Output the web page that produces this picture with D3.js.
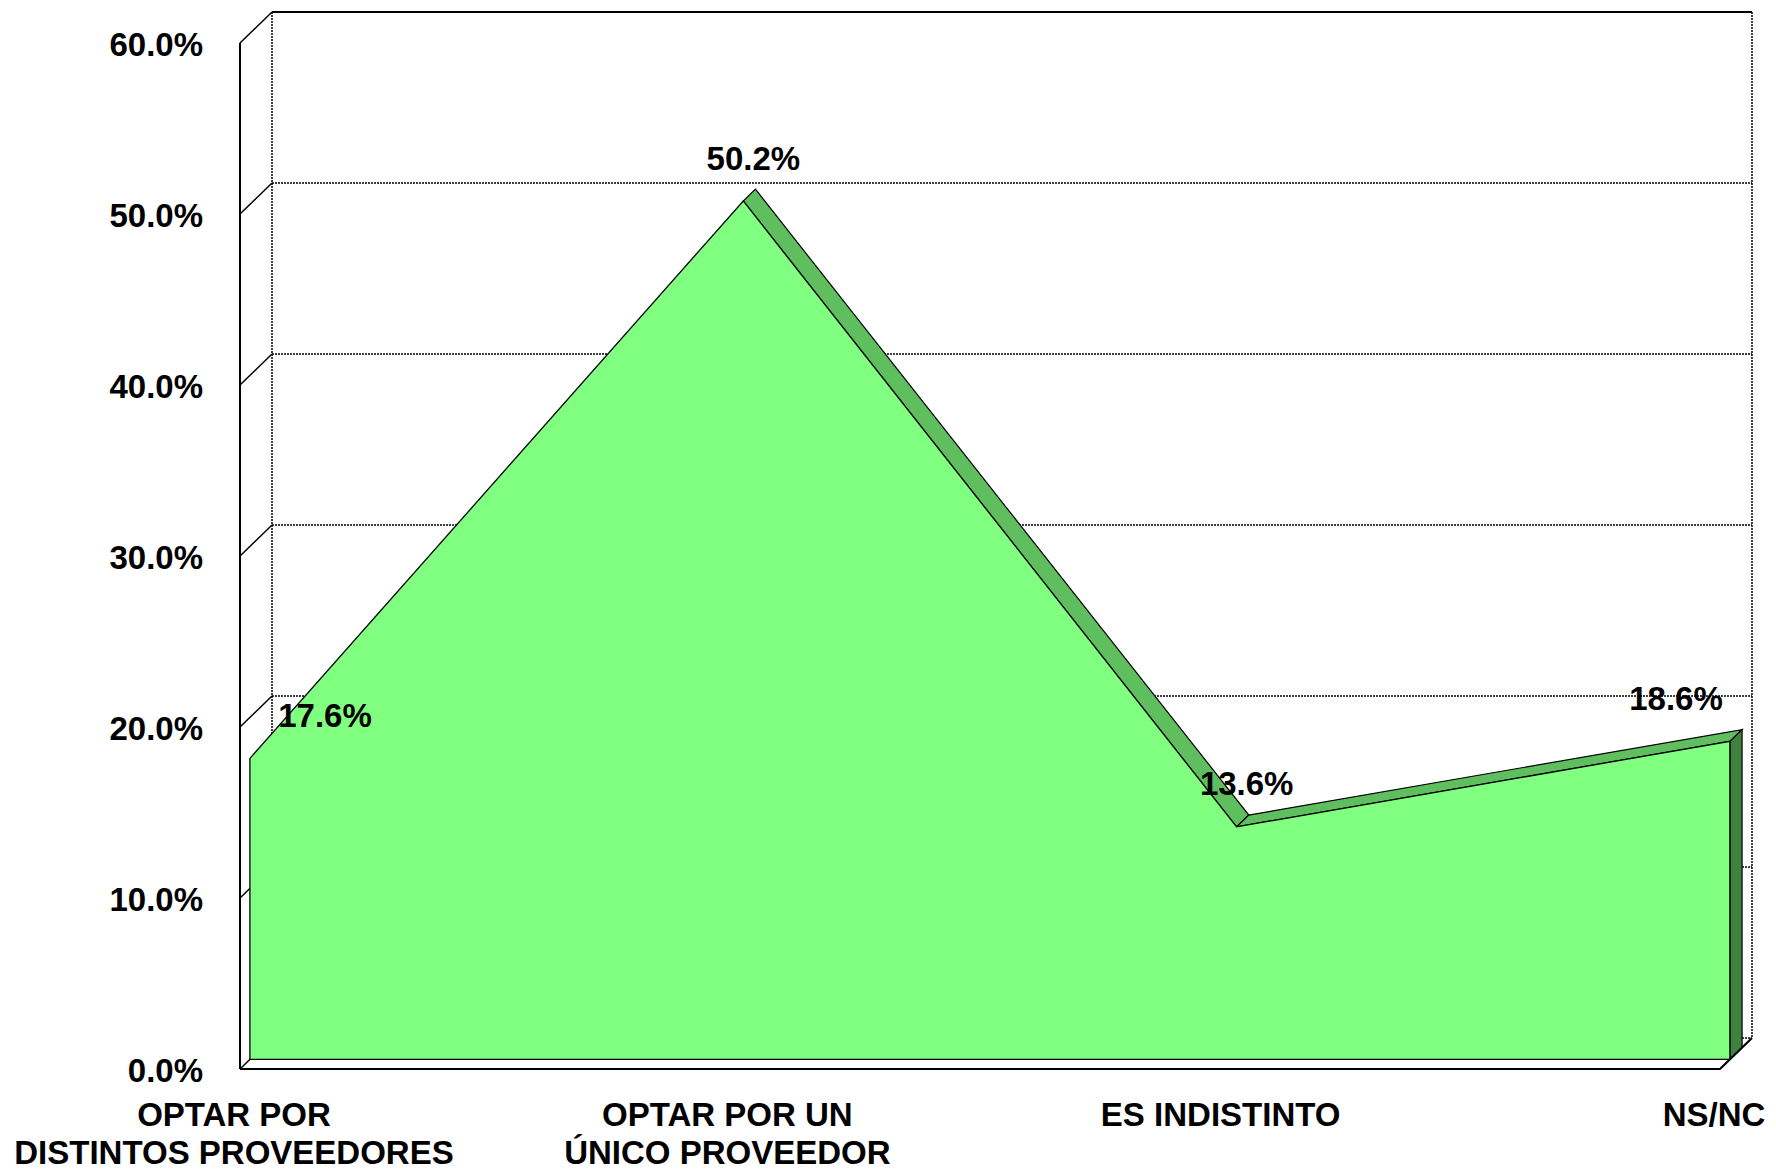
<!DOCTYPE html>
<html>
<head>
<meta charset="utf-8">
<script src="https://cdn.jsdelivr.net/npm/d3@7"></script>
<style>
  html, body { margin: 0; padding: 0; background: #fff; }
  text { font-family: "Liberation Sans", Arial, sans-serif; font-weight: bold; }
</style>
</head>
<body>
<div id="chart"></div>
<script>
// data
var categories = ["OPTAR POR|DISTINTOS PROVEEDORES", "OPTAR POR UN|ÚNICO PROVEEDOR", "ES INDISTINTO", "NS/NC"];
var values = [17.6, 50.2, 13.6, 18.6];
var yTicks = [0, 10, 20, 30, 40, 50, 60];

var w = 1776, h = 1172;
var depthX = 32, depthY = 31;   // 3d offset of back wall
var zFront = 0.31, zBack = 0.69; // depth band of the area series
var fs = 33;

var svg = d3.select("#chart").append("svg").attr("width", w).attr("height", h);
svg.append("rect").attr("width", w).attr("height", h).attr("fill", "#fff");

var x = d3.scalePoint().domain(categories).range([240, 1720]);
var y = d3.scaleLinear().domain([0, 60]).range([1069, 43]);

// project (category, value, depth) to screen
function px(c, z) { return x(c) + z * depthX; }
function py(v, z) { return y(v) - z * depthY; }

var left = x.range()[0], right = x.range()[1];
var dotted = "2,1";

// back wall
svg.append("rect")
  .attr("x", left + depthX).attr("y", py(60, 1))
  .attr("width", right - left).attr("height", y(0) - y(60))
  .attr("fill", "#fff");

// side wall
svg.append("path")
  .attr("d", d3.line()([[left, y(60)], [left + depthX, py(60, 1)], [left + depthX, py(0, 1)], [left, y(0)]]))
  .attr("fill", "#fff");

// gridlines on back wall and side wall
yTicks.forEach(function(t) {
  svg.append("line")
    .attr("x1", left + depthX).attr("x2", right + depthX)
    .attr("y1", py(t, 1)).attr("y2", py(t, 1))
    .attr("stroke", "#000").attr("stroke-width", t == 60 ? 2 : 1.5)
    .attr("stroke-dasharray", t == 60 ? null : dotted);
  svg.append("line")
    .attr("x1", left).attr("x2", left + depthX)
    .attr("y1", y(t)).attr("y2", py(t, 1))
    .attr("stroke", "#000").attr("stroke-width", 1.5);
});

// wall edges
svg.append("line")
  .attr("x1", left + depthX).attr("x2", left + depthX)
  .attr("y1", py(60, 1)).attr("y2", py(0, 1))
  .attr("stroke", "#000").attr("stroke-width", 1.5).attr("stroke-dasharray", dotted);
svg.append("line")
  .attr("x1", right + depthX).attr("x2", right + depthX)
  .attr("y1", py(60, 1)).attr("y2", py(0, 1))
  .attr("stroke", "#000").attr("stroke-width", 1.5).attr("stroke-dasharray", dotted);
svg.append("line")
  .attr("x1", left).attr("x2", left)
  .attr("y1", y(60)).attr("y2", y(0))
  .attr("stroke", "#000").attr("stroke-width", 2);

var pts = categories.map(function(c, i) { return { cat: c, v: values[i] }; });

// top strips of the area (only the ones facing the viewer)
for (var i = 0; i < pts.length - 1; i++) {
  var a = pts[i], b = pts[i + 1];
  var f0 = [px(a.cat, zFront), py(a.v, zFront)], f1 = [px(b.cat, zFront), py(b.v, zFront)];
  var b0 = [px(a.cat, zBack), py(a.v, zBack)], b1 = [px(b.cat, zBack), py(b.v, zBack)];
  var dx = f1[0] - f0[0], dy = f1[1] - f0[1];
  var ox = b0[0] - f0[0], oy = b0[1] - f0[1];
  if (dx * oy - dy * ox < 0) {
    svg.append("path")
      .attr("d", d3.line()([f0, f1, b1, b0]) + "Z")
      .attr("fill", "#5fbf5f").attr("stroke", "#000").attr("stroke-width", 1.2);
  }
}

// right end face
var last = pts[pts.length - 1];
svg.append("path")
  .attr("d", d3.line()([
    [px(last.cat, zFront), py(last.v, zFront)],
    [px(last.cat, zBack), py(last.v, zBack)],
    [px(last.cat, zBack), py(0, zBack)],
    [px(last.cat, zFront), py(0, zFront)]]) + "Z")
  .attr("fill", "#408040").attr("stroke", "#000").attr("stroke-width", 1.2);

// front face of the area
var area = d3.area()
  .x(function(d) { return px(d.cat, zFront); })
  .y0(py(0, zFront))
  .y1(function(d) { return py(d.v, zFront); });
svg.append("path")
  .datum(pts)
  .attr("d", area)
  .attr("fill", "#80ff80").attr("stroke", "#000").attr("stroke-width", 1.3);

// floor front edge
svg.append("path")
  .attr("d", d3.line()([[left, y(0)], [right, y(0)], [right + depthX, py(0, 1)]]))
  .attr("fill", "none").attr("stroke", "#000").attr("stroke-width", 2.2);

// y tick labels
svg.selectAll(".ytick")
  .data(yTicks)
  .enter()
  .append("text")
  .attr("x", 203)
  .attr("y", function(d) { return y(d) + 13; })
  .attr("text-anchor", "end")
  .attr("font-size", fs)
  .text(function(d) { return d.toFixed(1) + "%"; });

// category labels
categories.forEach(function(c) {
  var lines = c.split("|");
  svg.append("text")
    .attr("text-anchor", "middle")
    .attr("font-size", fs)
    .selectAll("tspan")
    .data(lines)
    .enter()
    .append("tspan")
    .attr("x", x(c) - 6)
    .attr("y", function(d, k) { return 1126 + k * 38; })
    .text(function(d) { return d; });
});

// data labels
svg.selectAll(".dlabel")
  .data(pts)
  .enter()
  .append("text")
  .attr("x", function(d) {
    var bx = px(d.cat, 1) - 12;
    return Math.max(left + depthX + 53, Math.min(right + depthX - 76, bx));
  })
  .attr("y", function(d) { return py(d.v, 1) - 10; })
  .attr("text-anchor", "middle")
  .attr("font-size", fs)
  .text(function(d) { return d.v.toFixed(1) + "%"; });
</script>
</body>
</html>
